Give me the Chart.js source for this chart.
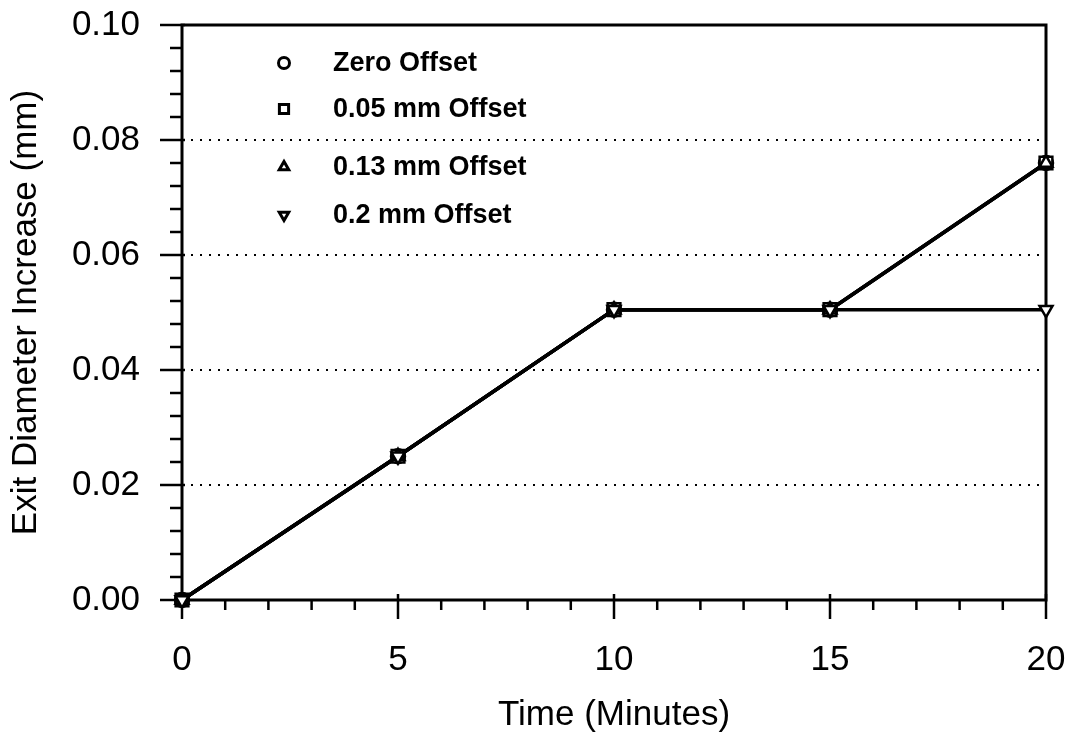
<!DOCTYPE html>
<html>
<head>
<meta charset="utf-8">
<script src="https://cdn.jsdelivr.net/npm/chart.js@4/dist/chart.umd.min.js"></script>
<style>
  html, body { margin: 0; padding: 0; background: #fff; }
  canvas { display: block; }
</style>
</head>
<body>
<canvas id="chart" width="1071" height="743"></canvas>
<script>
// data
const minutes = [0, 5, 10, 15, 20]
const zeroOffset = [0, 0.025, 0.0505, 0.0505, 0.076]
const offset005 = [0, 0.025, 0.0505, 0.0505, 0.076]
const offset013 = [0, 0.025, 0.0505, 0.0505, 0.076]
const offset02 = [0, 0.025, 0.0505, 0.0505, 0.0505]
const seriesNames = ['Zero Offset', '0.05 mm Offset', '0.13 mm Offset', '0.2 mm Offset']
const yTicks = [0, 0.02, 0.04, 0.06, 0.08, 0.10]

const FONT = '"Liberation Sans", Arial, sans-serif'
const CLEAR = 'rgba(0,0,0,0)'

const styles = [
    { pointStyle: 'circle', radius: 7, rotation: 0 },
    { pointStyle: 'rect', radius: 9, rotation: 0 },
    { pointStyle: 'triangle', radius: 7.5, rotation: 0 },
    { pointStyle: 'triangle', radius: 7.5, rotation: 180 }
]

function makeSet(i, values) {
    return {
        label: seriesNames[i],
        data: minutes.map((m, k) => ({ x: m, y: values[k] })),
        borderColor: '#000',
        borderWidth: 3.5,
        pointStyle: styles[i].pointStyle,
        pointRadius: styles[i].radius,
        pointRotation: styles[i].rotation,
        pointBackgroundColor: '#fff',
        pointBorderColor: '#000',
        pointBorderWidth: 2.5,
        order: 4 - i,
        clip: false,
        tension: 0
    }
}

// frame, tick marks and the legend inside the plot
const framePlugin = {
    id: 'frame',
    beforeDatasetsDraw(chart) {
        const ctx = chart.ctx
        const a = chart.chartArea
        const xs = chart.scales.x
        const ys = chart.scales.y
        ctx.save()
        ctx.setLineDash([])
        ctx.strokeStyle = '#000'
        ctx.lineWidth = 3
        ctx.strokeRect(a.left, a.top, a.right - a.left, a.bottom - a.top)

        ctx.lineWidth = 2.5
        for (let v = 0; v <= 20; v++) {
            const px = xs.getPixelForValue(v)
            ctx.beginPath()
            if (v % 5 == 0) {
                ctx.moveTo(px, a.bottom - 6)
                ctx.lineTo(px, a.bottom + 19)
            } else {
                ctx.moveTo(px, a.bottom)
                ctx.lineTo(px, a.bottom + 10)
            }
            ctx.stroke()
        }
        for (let i = 0; i <= 25; i++) {
            const py = ys.getPixelForValue(i * 0.004)
            ctx.beginPath()
            if (i % 5 == 0) {
                ctx.moveTo(a.left - 22, py)
                ctx.lineTo(a.left + 3, py)
            } else {
                ctx.moveTo(a.left - 12, py)
                ctx.lineTo(a.left, py)
            }
            ctx.stroke()
        }
        ctx.restore()
    },
    afterDraw(chart) {
        const ctx = chart.ctx
        const rows = [63, 109, 167, 215]
        ctx.save()
        ctx.font = 'bold 27px ' + FONT
        ctx.textBaseline = 'middle'
        for (let i = 0; i < seriesNames.length; i++) {
            ctx.strokeStyle = '#000'
            ctx.fillStyle = '#fff'
            ctx.lineWidth = 3
            Chart.helpers.drawPoint(ctx, {
                pointStyle: styles[i].pointStyle,
                radius: styles[i].pointStyle == 'rect' ? 6.5 : 5.5,
                rotation: styles[i].rotation,
                borderWidth: 3
            }, 284, rows[i])
            ctx.fillStyle = '#000'
            ctx.fillText(seriesNames[i], 333, rows[i] + 1)
        }
        ctx.restore()
    }
}

new Chart(document.getElementById('chart'), {
    type: 'line',
    data: {
        datasets: [
            makeSet(0, zeroOffset),
            makeSet(1, offset005),
            makeSet(2, offset013),
            makeSet(3, offset02)
        ]
    },
    options: {
        responsive: false,
        animation: false,
        layout: { padding: { top: 25, right: 25, left: 0, bottom: 0 } },
        plugins: {
            legend: { display: false },
            tooltip: { enabled: false }
        },
        scales: {
            x: {
                type: 'linear',
                min: 0,
                max: 20,
                afterFit: s => { s.height = 143 },
                border: { display: false },
                grid: { display: true, color: CLEAR, tickColor: CLEAR, drawTicks: true, tickLength: 39 },
                ticks: {
                    stepSize: 5,
                    padding: 0,
                    color: '#000',
                    font: { family: FONT, size: 35 },
                    maxRotation: 0
                },
                title: {
                    display: true,
                    text: 'Time (Minutes)',
                    color: '#000',
                    font: { family: FONT, size: 35 },
                    padding: { top: 0, bottom: 7 }
                }
            },
            y: {
                type: 'linear',
                min: 0,
                max: 0.1,
                afterFit: s => { s.width = 182 },
                afterBuildTicks: s => { s.ticks = yTicks.map(v => ({ value: v })) },
                border: { display: false, dash: [2, 7] },
                grid: {
                    drawTicks: true,
                    tickLength: 42,
                    tickColor: CLEAR,
                    color: c => (c.tick && c.tick.value > 0.001 && c.tick.value < 0.099) ? '#000' : CLEAR,
                    lineWidth: 2
                },
                ticks: {
                    padding: 0,
                    color: '#000',
                    font: { family: FONT, size: 35 },
                    callback: v => Number(v).toFixed(2)
                },
                title: {
                    display: true,
                    text: 'Exit Diameter Increase (mm)',
                    color: '#000',
                    font: { family: FONT, size: 35 },
                    padding: { top: 5, bottom: 0 }
                }
            }
        }
    },
    plugins: [framePlugin]
})
</script>
</body>
</html>
